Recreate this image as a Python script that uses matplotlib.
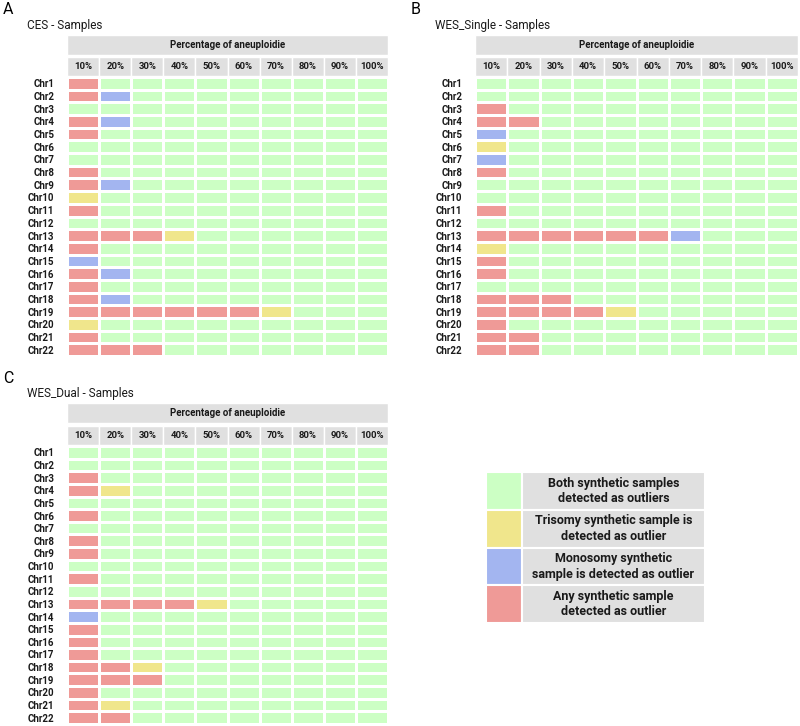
import numpy as np
import matplotlib
matplotlib.use('Agg')
import matplotlib.pyplot as plt
from matplotlib.colors import ListedColormap

plt.rcParams['font.family'] = ['Roboto', 'DejaVu Sans']

# Dados: um caractere por célula (G=ambos, Y=trissomia, B=monossomia, R=qualquer)
cromossomos = [f'Chr{i}' for i in range(1, 23)]
porcentagens = ['10%', '20%', '30%', '40%', '50%', '60%', '70%', '80%', '90%', '100%']

ces = ['RGGGGGGGGG', 'RBGGGGGGGG', 'GGGGGGGGGG', 'RBGGGGGGGG', 'RGGGGGGGGG',
       'GGGGGGGGGG', 'GGGGGGGGGG', 'RGGGGGGGGG', 'RBGGGGGGGG', 'YGGGGGGGGG',
       'RGGGGGGGGG', 'GGGGGGGGGG', 'RRRYGGGGGG', 'RGGGGGGGGG', 'BGGGGGGGGG',
       'RBGGGGGGGG', 'RGGGGGGGGG', 'RBGGGGGGGG', 'RRRRRRYGGG', 'YGGGGGGGGG',
       'RGGGGGGGGG', 'RRRGGGGGGG']

wes_single = ['GGGGGGGGGG', 'GGGGGGGGGG', 'RGGGGGGGGG', 'RRGGGGGGGG', 'BGGGGGGGGG',
              'YGGGGGGGGG', 'BGGGGGGGGG', 'RGGGGGGGGG', 'GGGGGGGGGG', 'GGGGGGGGGG',
              'RGGGGGGGGG', 'GGGGGGGGGG', 'RRRRRRBGGG', 'YGGGGGGGGG', 'RGGGGGGGGG',
              'RGGGGGGGGG', 'GGGGGGGGGG', 'RRRGGGGGGG', 'RRRRYGGGGG', 'RGGGGGGGGG',
              'RRGGGGGGGG', 'RRGGGGGGGG']

wes_dual = ['GGGGGGGGGG', 'GGGGGGGGGG', 'RGGGGGGGGG', 'RYGGGGGGGG', 'GGGGGGGGGG',
            'RGGGGGGGGG', 'GGGGGGGGGG', 'RGGGGGGGGG', 'RGGGGGGGGG', 'GGGGGGGGGG',
            'RGGGGGGGGG', 'GGGGGGGGGG', 'RRRRYGGGGG', 'BGGGGGGGGG', 'RGGGGGGGGG',
            'RGGGGGGGGG', 'RGGGGGGGGG', 'RRYGGGGGGG', 'RRRGGGGGGG', 'RGGGGGGGGG',
            'RYGGGGGGGG', 'RRGGGGGGGG']

legenda = ['Both synthetic samples\ndetected as outliers',
           'Trisomy synthetic sample is\ndetected as outlier',
           'Monosomy synthetic\nsample is detected as outlier',
           'Any synthetic sample\ndetected as outlier']

codigos = {'G': 0, 'Y': 1, 'B': 2, 'R': 3}
cores = ['#ccffc4', '#f0e68c', '#a3b5f0', '#ef9a97']
CINZA = '#e0e0e0'
LW = 1.0
W, H = 800, 726

fig = plt.figure(figsize=(W / 100, H / 100), dpi=100)


def eixo_px(x0, y0, x1, y1):
    # cria eixo a partir de coordenadas em pixels (origem no topo)
    return fig.add_axes([x0 / W, 1 - y1 / H, (x1 - x0) / W, (y1 - y0) / H])


def painel(letra, titulo, linhas, x0, x1, y_strip, y_grade, y_fim):
    ax = eixo_px(x0, y_strip, x1, y_fim)
    rh = (y_fim - y_grade) / 22
    topo = -(y_grade - y_strip) / rh
    matriz = np.array([[codigos[c] for c in linha] for linha in linhas])
    ax.pcolormesh(np.arange(11), np.arange(23), matriz, cmap=ListedColormap(cores),
                  vmin=-0.5, vmax=3.5, edgecolors='white', linewidth=LW)
    # faixa "Percentage of aneuploidie"
    ax.bar(5, 20 / rh, bottom=topo, width=10, color=CINZA, edgecolor='white',
           linewidth=LW, clip_on=False)
    ax.text(5, topo + 10 / rh, 'Percentage of aneuploidie', ha='center', va='center',
            fontsize=7, fontweight='bold', color='#1a1a1a')
    # cabeçalho das colunas
    ax.bar(np.arange(10) + 0.5, 19 / rh, bottom=-20 / rh, width=1, color=CINZA,
           edgecolor='white', linewidth=LW, clip_on=False)
    for i, p in enumerate(porcentagens):
        ax.text(i + 0.5, -10.5 / rh, p, ha='center', va='center', fontsize=6.8,
                fontweight='bold', color='#1a1a1a')
    ax.set_xlim(0, 10)
    ax.set_ylim(22, topo)
    ax.set_xticks([])
    ax.set_yticks(np.arange(22) + 0.5)
    ax.set_yticklabels(cromossomos, fontsize=7, fontweight='bold', color='#1a1a1a')
    ax.tick_params(axis='y', length=0, pad=9)
    for s in ax.spines.values():
        s.set_visible(False)
    fig.text((x0 - 64) / W, 1 - (y_strip - 25) / H, letra, fontsize=11.5,
             ha='left', va='center')
    fig.text((x0 - 40) / W, 1 - (y_strip - 10) / H, titulo, fontsize=8.5,
             ha='left', va='center', color='#1a1a1a')


painel('A', 'CES - Samples', ces, 67, 388, 35, 77, 356)
painel('B', 'WES_Single - Samples', wes_single, 475, 798, 35, 77, 356)
painel('C', 'WES_Dual - Samples', wes_dual, 67, 388, 403, 446, 724)

# Legenda
axl = eixo_px(486, 472, 705, 623)
n = len(legenda)
axl.bar(np.zeros(n) + 0.5, 1, bottom=np.arange(n), width=1, color=cores,
        edgecolor='white', linewidth=1.5)
axl.bar(np.zeros(n) + 3.55, 1, bottom=np.arange(n), width=5.1, color=CINZA,
        edgecolor='white', linewidth=1.5)
for i, t in enumerate(legenda):
    axl.text(3.55, i + 0.5, t, ha='center', va='center', fontsize=9,
             fontweight='bold', color='#1a1a1a', linespacing=1.25)
axl.set_xlim(0, 6.1)
axl.set_ylim(n, 0)
axl.axis('off')

plt.savefig('out.png', dpi=100)
plt.close()
